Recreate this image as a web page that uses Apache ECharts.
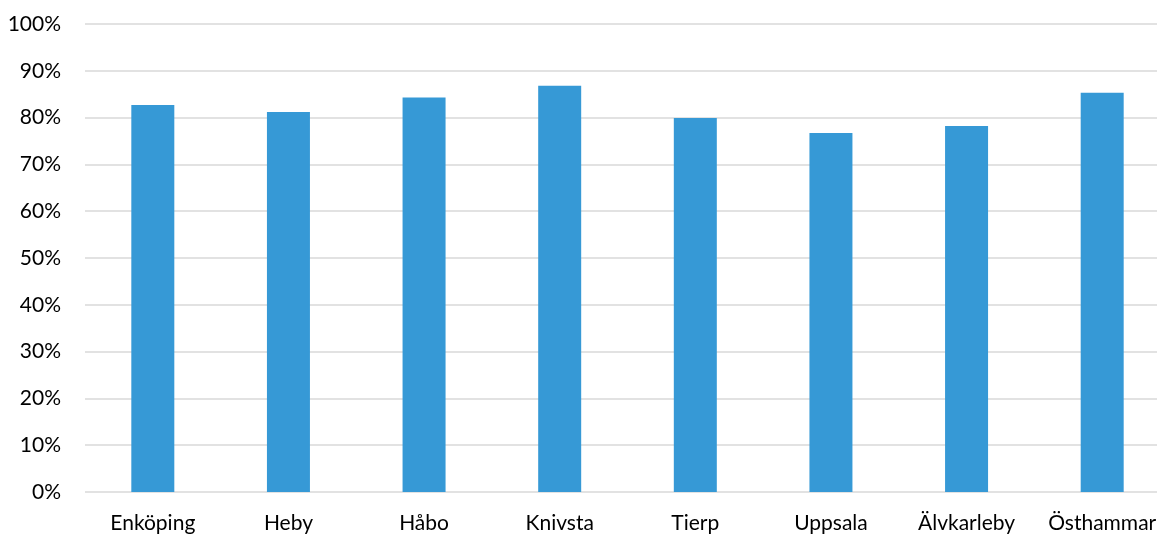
<!DOCTYPE html>
<html><head><meta charset="utf-8">
<script src="https://cdn.jsdelivr.net/npm/echarts@6/dist/echarts.min.js"></script>
<style>html,body{margin:0;padding:0;background:#fff;overflow:hidden}#c{width:1170px;height:534px}</style>
</head><body><div id="c"></div>
<script>
const categories = ['Enköping','Heby','Håbo','Knivsta','Tierp','Uppsala','Älvkarleby','Östhammar'];
const values = [0.827, 0.812, 0.843, 0.868, 0.799, 0.767, 0.782, 0.853];
const yTicks = { min: 0, max: 1, interval: 0.1 };

const chart = echarts.init(document.getElementById('c'), null, {renderer:'canvas'});
chart.setOption({
  animation: false,
  grid: { left: 85, top: 24, right: 0, bottom: 42, containLabel: false },
  xAxis: {
    type: 'category', data: categories,
    axisLine: { show: false }, axisTick: { show: false },
    axisLabel: { color: '#000', fontFamily: 'Lato', fontSize: 21, margin: 21, interval: 0 }
  },
  yAxis: {
    type: 'value', min: yTicks.min, max: yTicks.max, interval: yTicks.interval,
    axisLine: { show: false }, axisTick: { show: false },
    splitLine: { lineStyle: { color: '#d9d9d9', width: 1.5 } },
    axisLabel: { color: '#000', fontFamily: 'Lato', fontSize: 21, margin: 24,
      formatter: v => Math.round(v*100) + '%' }
  },
  series: [{
    type: 'bar', data: values, barWidth: 43,
    itemStyle: { color: '#3699d6' }
  }]
});
</script></body></html>
